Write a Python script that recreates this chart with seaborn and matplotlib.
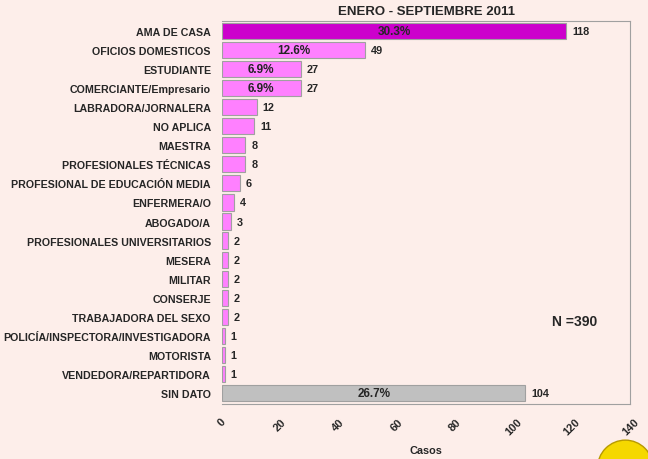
import pandas as pd
import numpy as np
import seaborn as sns
import matplotlib.pyplot as plt
from matplotlib.patches import Ellipse

# Ocupaciones y casos
ocupaciones = ["AMA DE CASA", "OFICIOS DOMESTICOS", "ESTUDIANTE", "COMERCIANTE/Empresario",
               "LABRADORA/JORNALERA", "NO APLICA", "MAESTRA", "PROFESIONALES TÉCNICAS",
               "PROFESIONAL DE EDUCACIÓN MEDIA", "ENFERMERA/O", "ABOGADO/A",
               "PROFESIONALES UNIVERSITARIOS", "MESERA", "MILITAR", "CONSERJE",
               "TRABAJADORA DEL SEXO", "POLICÍA/INSPECTORA/INVESTIGADORA", "MOTORISTA",
               "VENDEDORA/REPARTIDORA", "SIN DATO"]
casos = [118, 49, 27, 27, 12, 11, 8, 8, 6, 4, 3, 2, 2, 2, 2, 2, 1, 1, 1, 104]
porcentajes = ["30.3%", "12.6%", "6.9%", "6.9%"] + [""] * 15 + ["26.7%"]
x_ticks = [0, 20, 40, 60, 80, 100, 120, 140]

colores = ["#cc00cc"] + ["#ff80ff"] * 18 + ["#c0c0c0"]

df = pd.DataFrame({"ocupacion": ocupaciones, "casos": casos})

sns.set_style("white")
plt.rcParams["font.family"] = ["Liberation Sans", "DejaVu Sans"]
plt.rcParams["font.weight"] = "bold"

fig = plt.figure(figsize=(6.48, 4.6), dpi=100)
fig.patch.set_facecolor("#fdeeea")
ax = fig.add_axes([0.3426, 0.12, 0.630, 0.832])
ax.set_facecolor("#fdeeea")

sns.barplot(data=df, x="casos", y="ocupacion", hue="ocupacion", palette=colores,
            saturation=1, legend=False, width=0.85, edgecolor="#a0a0a0", linewidth=0.8, ax=ax)

for i, (c, p) in enumerate(zip(casos, porcentajes)):
    ax.text(c + 2, i, str(c), va="center", ha="left", fontsize=7.8, fontweight="bold")
    if p:
        ax.text(c / 2, i, p, va="center", ha="center", fontsize=8.5, fontweight="bold")

ax.text(121, 15.2, "N =390", ha="center", va="center", fontsize=10, fontweight="bold")

ax.set_xlim(0, 140)
ax.set_ylim(19.55, -0.5)
ax.set_xticks(x_ticks)
ax.set_xticklabels([str(t) for t in x_ticks], rotation=45, fontsize=8, fontweight="bold",
                   ha="center", va="top")
ax.tick_params(axis="y", labelsize=7.7, length=6, color="#a0a0a0", direction="out", pad=2)
ax.tick_params(axis="x", length=5, color="#a0a0a0", direction="out", pad=4)
for lbl in ax.get_yticklabels():
    lbl.set_fontweight("bold")
ax.set_ylabel("")
ax.set_xlabel("Casos", fontsize=7.8, fontweight="bold", labelpad=6)
ax.set_title("ENERO - SEPTIEMBRE 2011", fontsize=9.5, fontweight="bold", pad=5)

for s in ax.spines.values():
    s.set_color("#a0a0a0")
    s.set_linewidth(0.8)
ax.spines["left"].set_visible(False)

# logo (circulo amarillo en la esquina)
fig.patches.append(Ellipse((0.965, -0.02), 0.086, 0.122, transform=fig.transFigure,
                           facecolor="#f5d800", edgecolor="#b89a00", lw=1))

fig.savefig("out.png", dpi=100, facecolor=fig.get_facecolor())
